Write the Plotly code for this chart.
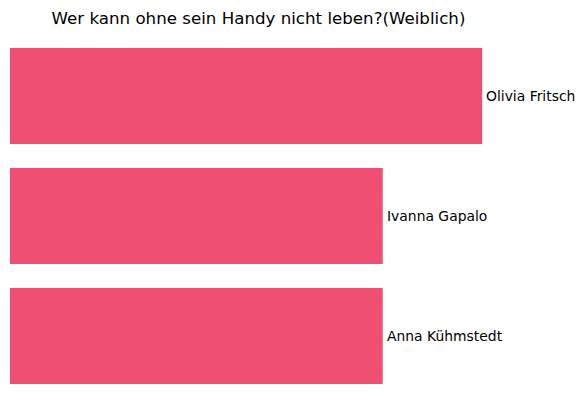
import plotly.graph_objects as go

names = ["Olivia Fritsch", "Ivanna Gapalo", "Anna Kühmstedt"]
values = [19, 15, 15]
title = "Wer kann ohne sein Handy nicht leben?(Weiblich)"
bar_color = "#EF4F73"

fig = go.Figure(go.Bar(
    x=values,
    y=names,
    orientation="h",
    marker=dict(color=bar_color, line=dict(width=0)),
    cliponaxis=False,
    hoverinfo="none",
))

for n, v in zip(names, values):
    fig.add_annotation(x=v, y=n, xref="x", yref="y", text=n, showarrow=False,
                       xanchor="left", yanchor="middle", xshift=2,
                       font=dict(family="DejaVu Sans", size=13.9, color="black"))

fig.update_layout(
    width=585, height=411,
    margin=dict(l=10, r=78, t=36, b=15),
    paper_bgcolor="white", plot_bgcolor="white",
    bargap=0.2,
    showlegend=False,
    title=dict(text=title, x=0.5, xref="paper", xanchor="center",
               y=1 - 18 / 411, yref="container", yanchor="middle",
               font=dict(family="DejaVu Sans", size=16.67, color="black")),
    xaxis=dict(range=[0, 20], visible=False),
    yaxis=dict(autorange="reversed", visible=False),
)

fig.write_html("out.html")
